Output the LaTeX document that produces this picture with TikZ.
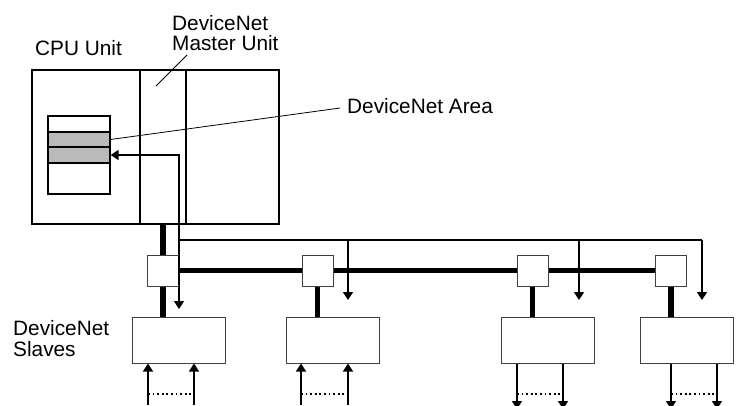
\documentclass[tikz,border=0pt]{standalone}
\usepackage{fontspec}
\setmainfont{Liberation Sans}
\usetikzlibrary{arrows.meta}
\tikzset{
  lbl/.style={anchor=base west, inner sep=0pt, font=\fontsize{20.8}{21}\selectfont},
  unitline/.style={draw=black, line width=1.4pt},
  leader/.style={draw=black, line width=0.8pt},
  tapbox/.style={draw=black!75, line width=1pt, fill=white, rectangle, inner sep=0pt, minimum width=31pt, minimum height=31pt},
  slavebox/.style={draw=black!75, line width=1pt, fill=white, rectangle, inner sep=0pt, minimum width=93pt, minimum height=46pt},
  bus/.style={line width=5.5pt, draw=black},
  sig/.style={line width=1.6pt, draw=black},
  sigarrow/.style={sig, -{Triangle[width=10pt,length=8pt]}},
  io/.style={line width=1.6pt, dash pattern=on 1.8pt off 2.8pt},
  band/.style={draw=black, line width=1.2pt, fill=black!27, rectangle, inner sep=0pt, minimum width=62pt},
}
\begin{document}
\begin{tikzpicture}[x=1pt,y=-1pt]
\clip (0,0) rectangle (736,405);
\useasboundingbox (0,0) rectangle (736,405);

% CPU rack
\node[unitline, rectangle, inner sep=0pt, minimum width=247pt, minimum height=154pt] (cpu) at (155.5,147) {};
\coordinate (d1t) at (140,70); \coordinate (d1b) at (140,224);
\coordinate (d2t) at (186,70); \coordinate (d2b) at (186,224);
\draw[unitline] (d1t) -- (d1b);
\draw[unitline] (d2t) -- (d2b);

% memory area
\node[draw=black, line width=1.4pt, rectangle, inner sep=0pt, minimum width=62pt, minimum height=78pt] (mem) at (79,155) {};
\node[band, minimum height=15pt] (m1) at (79,139.5) {};
\node[band, minimum height=16pt] (m2) at (79,155) {};

% labels
\node[lbl] (cpulab) at (35,55) {CPU Unit};
\node[lbl] (mlab1) at (172,30) {DeviceNet};
\node[lbl] (mlab2) at (172,50) {Master Unit};
\node[lbl] (arealab) at (347,113) {DeviceNet Area};
\node[lbl] (slab1) at (13,335) {DeviceNet};
\node[lbl] (slab2) at (13,356) {Slaves};

\coordinate (ml1) at (187,55); \coordinate (ml2) at (156,86);
\draw[leader] (ml1) -- (ml2);
\coordinate (al) at (340,108);
\draw[leader] (m1.east) -- (al);

% slaves
\node[slavebox] (s1) at (178.5,340) {};
\node[slavebox] (s2) at (332.5,340) {};
\node[slavebox] (s3) at (548,340) {};
\node[slavebox] (s4) at (686.5,340) {};

% thick bus
\coordinate (cpub) at (163,224);
\coordinate (t1c) at (163,270.5);
\coordinate (t2c) at (317.5,270.5);
\coordinate (t3c) at (532.5,270.5);
\coordinate (t4c) at (671,270.5);
\draw[bus] (cpub) -- (cpub |- s1.north);
\draw[bus] (t1c) -- (t4c);
\draw[bus] (t2c) -- (t2c |- s2.north);
\draw[bus] (t3c) -- (t3c |- s3.north);
\draw[bus] (t4c) -- (t4c |- s4.north);

% signal lines (drawn before tap boxes)
\coordinate (j0) at (179,240);
\coordinate (j1) at (348,240);
\coordinate (j2) at (579,240);
\coordinate (j3) at (702,240);
\draw[sig] (j0) -- (j3);
\draw[sigarrow] (j0) |- (m2.east);
\draw[sigarrow] (j0) -- (179,309);
\draw[sigarrow] (j1) -- (348,300);
\draw[sigarrow] (j2) -- (579,300);
\draw[sigarrow] (j3) -- (702,300);

% tap boxes
\node[tapbox] (t1) at (t1c) {};
\node[tapbox] (t2) at (t2c) {};
\node[tapbox] (t3) at (t3c) {};
\node[tapbox] (t4) at (t4c) {};
% redraw the thin line along tap 1's right edge
\draw[sig] (179,256) -- (179,285);

% I/O arrows
\coordinate (b1a) at (148,405); \coordinate (b1b) at (194,405);
\coordinate (b2a) at (301,405); \coordinate (b2b) at (348,405);
\coordinate (b3a) at (517,409); \coordinate (b3b) at (563,409);
\coordinate (b4a) at (671,409); \coordinate (b4b) at (717,409);
\draw[sigarrow] (b1a) -- (b1a |- s1.south);
\draw[sigarrow] (b1b) -- (b1b |- s1.south);
\draw[sigarrow] (b2a) -- (b2a |- s2.south);
\draw[sigarrow] (b2b) -- (b2b |- s2.south);
\draw[sigarrow] (b3a |- s3.south) -- (b3a);
\draw[sigarrow] (b3b |- s3.south) -- (b3b);
\draw[sigarrow] (b4a |- s4.south) -- (b4a);
\draw[sigarrow] (b4b |- s4.south) -- (b4b);
\draw[io] (148,394) -- (194,394);
\draw[io] (301,394) -- (348,394);
\draw[io] (517,394) -- (563,394);
\draw[io] (671,394) -- (717,394);
\end{tikzpicture}
\end{document}
